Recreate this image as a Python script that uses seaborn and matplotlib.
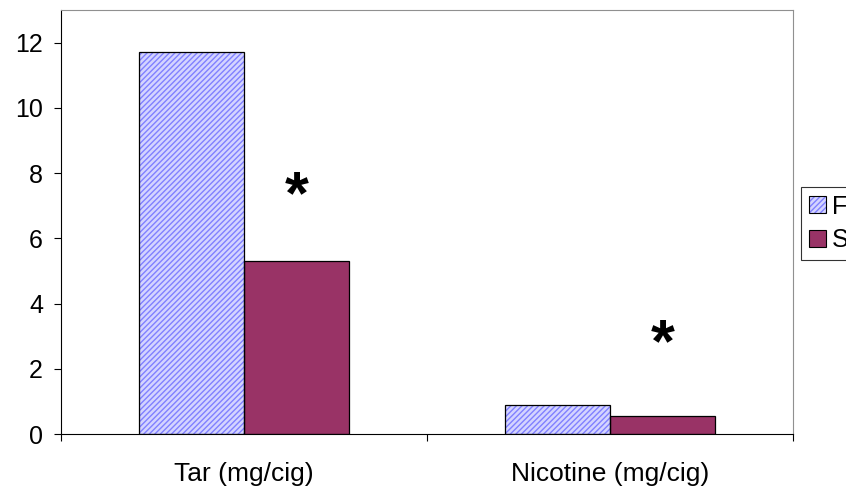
import matplotlib
matplotlib.use("Agg")
import matplotlib.pyplot as plt
from matplotlib.patches import Rectangle, Patch
import seaborn as sns
import pandas as pd

categories = ["Tar (mg/cig)", "Nicotine (mg/cig)"]
series = ["F", "S"]
values_f = [11.7, 0.88]
values_s = [5.3, 0.55]
star_y = [7.24, 2.7]

sns.set_style("white")
plt.rcParams["font.family"] = ["Liberation Sans", "DejaVu Sans"]
plt.rcParams["hatch.linewidth"] = 1.0
plt.rcParams["text.color"] = "black"
plt.rcParams["xtick.labelcolor"] = "black"
plt.rcParams["ytick.labelcolor"] = "black"

FS = 18
XFS = 19
HATCH_FACE = "#d4d4ff"
HATCH_COLOR = "#8080ff"
S_COLOR = "#993366"

df = pd.DataFrame({
    "category": categories * 2,
    "series": [series[0]] * 2 + [series[1]] * 2,
    "value": values_f + values_s,
})

fig = plt.figure(figsize=(8.46, 4.87), dpi=100)
ax = fig.add_axes([61 / 846, 1 - 434 / 487, (793 - 61) / 846, (434 - 10) / 487])

sns.barplot(data=df, x="category", y="value", hue="series", order=categories,
            hue_order=series, palette=[HATCH_FACE, S_COLOR], saturation=1, width=0.574,
            edgecolor="black", linewidth=0.9, ax=ax, errorbar=None, legend=False)

# hatch the first series
n = len(categories)
for p in ax.patches[:n]:
    p.set_edgecolor(HATCH_COLOR)
    p.set_hatch("//////")
    p.set_linewidth(0)
    ax.add_patch(Rectangle((p.get_x(), p.get_y()), p.get_width(), p.get_height(),
                           fill=False, edgecolor="black", linewidth=0.9, zorder=p.get_zorder() + 0.1))

# asterisks above second series
for i, yv in enumerate(star_y):
    p = ax.patches[n + i]
    ax.text(p.get_x() + p.get_width() / 2, yv, "*", ha="center", va="center",
            fontsize=44, color="black", fontweight="bold")

ax.set_xlim(-0.5, 1.5)
ax.set_ylim(0, 13)
ax.set_yticks(range(0, 13, 2))
ax.set_xlabel("")
ax.set_ylabel("")
ax.set_xticks([-0.5, 0.5, 1.5], minor=True)
ax.tick_params(axis="x", which="major", length=0, pad=20, labelsize=XFS, labelcolor="black")
ax.tick_params(axis="x", which="minor", length=5, direction="out", color="black", width=0.8, bottom=True)
ax.tick_params(axis="y", which="major", length=5, direction="out", color="black", width=0.8,
               left=True, pad=8, labelsize=FS, labelcolor="black")
for side in ["left", "bottom"]:
    ax.spines[side].set_color("black")
    ax.spines[side].set_linewidth(0.8)
for side in ["top", "right"]:
    ax.spines[side].set_visible(True)
    ax.spines[side].set_color("#909090")
    ax.spines[side].set_linewidth(0.8)

h1 = (Patch(facecolor=HATCH_FACE, edgecolor=HATCH_COLOR, hatch="//////", linewidth=0),
      Patch(facecolor="none", edgecolor="black", linewidth=0.8))
h2 = Patch(facecolor=S_COLOR, edgecolor="black", linewidth=0.8)
leg = fig.legend([h1, h2], series, loc="upper left", bbox_to_anchor=(801 / 846, 1 - 187 / 487),
                 frameon=True, fontsize=FS, handlelength=0.68, handleheight=0.68,
                 handletextpad=0.25, borderpad=0.3, labelspacing=0.38, fancybox=False,
                 borderaxespad=0)
leg.get_frame().set_edgecolor("black")
leg.get_frame().set_linewidth(0.8)

fig.savefig("out.png", dpi=100)
